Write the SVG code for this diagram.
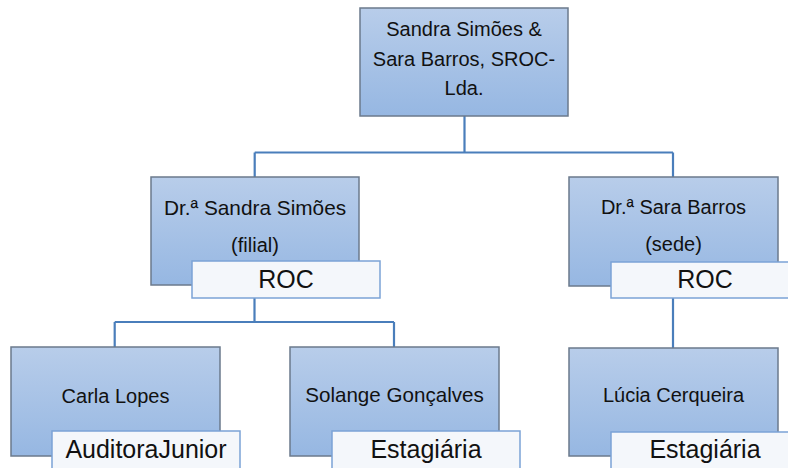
<svg xmlns="http://www.w3.org/2000/svg" width="788" height="468" viewBox="0 0 788 468">
<defs>
<linearGradient id="g" x1="0" y1="0" x2="0" y2="1">
<stop offset="0" stop-color="#b8cdea"/>
<stop offset="1" stop-color="#96b7e2"/>
</linearGradient>
<style>
.box{fill:url(#g);stroke:#6b7a8c;stroke-width:1.5}
.lab{fill:#f4f7fb;stroke:#7ba3d6;stroke-width:1.5}
.t{font-family:"Liberation Sans",Arial,sans-serif;font-size:20px;fill:#111;text-anchor:middle}
.l{font-family:"Liberation Sans",Arial,sans-serif;font-size:25px;fill:#111;text-anchor:middle}
.c{fill:none;stroke:#4a7ebb;stroke-width:2.2}
</style>
</defs>
<rect width="788" height="468" fill="#fff"/>
<g id="connectors">
<path class="c" d="M464.5 116 V152.5 M254.7 152.5 H673 M254.7 152.5 V177 M673 152.5 V177"/>
<path class="c" d="M254.5 285 V322 M114.7 322 H394 M114.7 322 V347 M394 322 V347"/>
<path class="c" d="M673 286 V348"/>
</g>
<g id="n-top">
<rect class="box" x="360" y="8" width="208" height="108"/>
<text class="t" x="464" y="36">Sandra Simões &amp;</text>
<text class="t" x="464" y="66">Sara Barros, SROC-</text>
<text class="t" x="464" y="95">Lda.</text>
</g>
<g id="n-sandra">
<rect class="box" x="151" y="177" width="208" height="108"/>
<text class="t" x="255" y="215" style="font-size:20.8px">Dr.ª Sandra Simões</text>
<text class="t" x="255" y="252">(filial)</text>
<rect class="lab" x="192" y="261" width="188" height="37"/>
<text class="l" x="286" y="288">ROC</text>
</g>
<g id="n-sara">
<rect class="box" x="569" y="177" width="209" height="109"/>
<text class="t" x="673.5" y="214">Dr.ª Sara Barros</text>
<text class="t" x="673.5" y="251">(sede)</text>
<rect class="lab" x="611" y="262" width="188" height="36"/>
<text class="l" x="705" y="288">ROC</text>
</g>
<g id="n-carla">
<rect class="box" x="11" y="347" width="209" height="109"/>
<text class="t" x="115.5" y="403">Carla Lopes</text>
<rect class="lab" x="52" y="431" width="188" height="38"/>
<text class="l" x="146" y="458">AuditoraJunior</text>
</g>
<g id="n-solange">
<rect class="box" x="290" y="347" width="209" height="109"/>
<text class="t" x="394.5" y="402" style="font-size:20.6px">Solange Gonçalves</text>
<rect class="lab" x="332" y="431" width="188" height="38"/>
<text class="l" x="426" y="458">Estagiária</text>
</g>
<g id="n-lucia">
<rect class="box" x="569" y="348" width="209" height="108"/>
<text class="t" x="673.5" y="402">Lúcia Cerqueira</text>
<rect class="lab" x="611" y="432" width="188" height="37"/>
<text class="l" x="705" y="458">Estagiária</text>
</g>
</svg>
